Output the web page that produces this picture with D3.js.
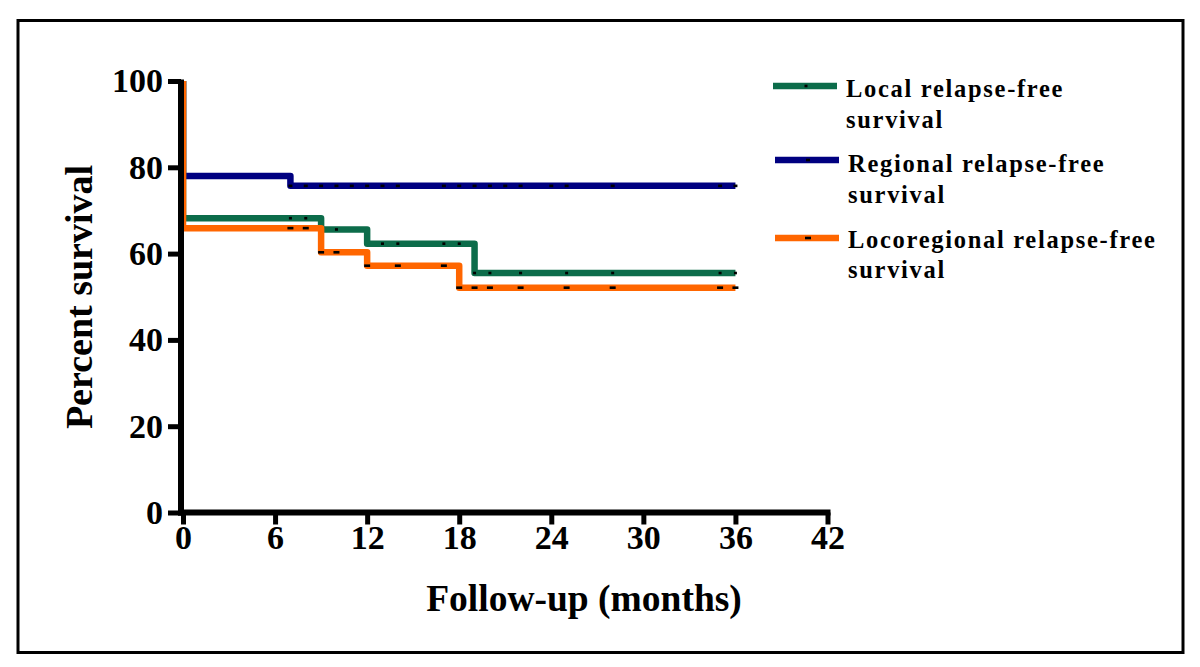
<!DOCTYPE html>
<html>
<head>
<meta charset="utf-8">
<script src="https://cdn.jsdelivr.net/npm/d3@7"></script>
<style>
  html, body { margin: 0; padding: 0; background: #fff; }
  svg { display: block; }
  text { font-family: "Liberation Serif", "Times New Roman", serif; font-weight: bold; fill: #000; }
</style>
</head>
<body>
<svg id="chart" width="1200" height="667"></svg>
<script>
// ---- data ----
const xTicks = [0, 6, 12, 18, 24, 30, 36, 42];
const yTicks = [0, 20, 40, 60, 80, 100];
const endTime = 36;

const seriesNames = ["Local relapse-free survival", "Regional relapse-free survival", "Locoregional relapse-free survival"];

const localTimes = [0, 9, 12, 19];
const localSurv = [68.2, 65.6, 62.3, 55.5];
const localCensor = [7, 8, 10, 13, 14, 17, 18, 19, 20, 22, 25, 28, 35, 36];

const regionalTimes = [0, 7];
const regionalSurv = [78, 75.7];
const regionalCensor = [7, 8, 9, 10, 11, 12, 13, 14, 17, 18, 19, 20, 21, 22, 24, 25, 28, 35, 36];

const locoTimes = [0, 9, 12, 18];
const locoSurv = [65.9, 60.3, 57.2, 52.1];
const locoCensor = [7, 8, 9, 10, 12, 14, 17, 18, 19, 20, 22, 25, 28, 35, 36];

const colors = ["#0c6c4a", "#000080", "#ff6600"];

// ---- build ----
const series = [
  { name: seriesNames[1], times: regionalTimes, surv: regionalSurv, censor: regionalCensor, color: colors[1], mw: 4 },
  { name: seriesNames[0], times: localTimes, surv: localSurv, censor: localCensor, color: colors[0], mw: 3 },
  { name: seriesNames[2], times: locoTimes, surv: locoSurv, censor: locoCensor, color: colors[2], mw: 6 }
];

const svg = d3.select("#chart");

svg.append("rect").attr("x", 18).attr("y", 20.5).attr("width", 1165).attr("height", 632)
  .attr("fill", "none").attr("stroke", "#000").attr("stroke-width", 3);

const x = d3.scaleLinear().domain([0, 42]).range([183, 827.5]);
const y = d3.scaleLinear().domain([0, 100]).range([512.5, 81]);

function stepPoints(s) {
  const pts = [[0, 100]];
  s.times.forEach((t, i) => pts.push([t, s.surv[i]]));
  pts.push([endTime, s.surv[s.surv.length - 1]]);
  return pts;
}
function survAt(s, t) {
  let v = 100;
  s.times.forEach((tt, i) => { if (tt <= t) v = s.surv[i]; });
  return v;
}

const line = d3.line().x(d => x(d[0])).y(d => y(d[1])).curve(d3.curveStepAfter);

const gLines = svg.append("g");
series.forEach(s => {
  gLines.append("path").datum(stepPoints(s)).attr("d", line)
    .attr("fill", "none").attr("stroke", s.color).attr("stroke-width", 6.5)
    .attr("stroke-linejoin", "round");
});
series.forEach(s => {
  gLines.selectAll(null).data(s.censor).enter().append("rect")
    .attr("x", d => x(d) - s.mw / 2).attr("y", d => y(survAt(s, d)) - 1.3)
    .attr("width", s.mw).attr("height", 2.6).attr("fill", "#000");
});

// ---- axes ----
const yAxis = svg.append("g").attr("transform", "translate(181,0)")
  .call(d3.axisLeft(y).tickValues(yTicks).tickSize(13).tickSizeOuter(0).tickPadding(5).tickFormat(d3.format("d")));
const xAxis = svg.append("g").attr("transform", "translate(0,512.5)")
  .call(d3.axisBottom(x).tickValues(xTicks).tickSize(12).tickSizeOuter(0).tickPadding(0).tickFormat(d3.format("d")));

[yAxis, xAxis].forEach(g => {
  g.select(".domain").attr("stroke", "#000").attr("stroke-width", 6);
  g.selectAll(".tick line").attr("stroke", "#000").attr("stroke-width", 5);
  g.selectAll(".tick text").attr("font-size", 34).attr("font-family", "Liberation Serif, Times New Roman, serif")
    .attr("font-weight", "bold").attr("fill", "#000");
});
yAxis.select(".domain").attr("d", "M0," + (y(100) - 1.5) + "V" + (y(0) + 3));
xAxis.select(".domain").attr("d", "M" + 178 + ",0H" + (x(42) + 3));

// ---- titles ----
svg.append("text").attr("x", 584).attr("y", 611).attr("text-anchor", "middle")
  .attr("font-size", 37.5).text("Follow-up (months)");
svg.append("text").attr("transform", "translate(92,297) rotate(-90)").attr("text-anchor", "middle")
  .attr("font-size", 38).text("Percent survival");

// ---- legend ----
const legendData = [
  { color: colors[0], mw: 3, text: ["Local relapse-free", "survival"], ly: 86, ty: 97, x0: 773 },
  { color: colors[1], mw: 4, text: ["Regional relapse-free", "survival"], ly: 160, ty: 172, x0: 775 },
  { color: colors[2], mw: 6, text: ["Locoregional relapse-free", "survival"], ly: 238, ty: 247.5, x0: 775 }
];
const gLeg = svg.append("g");
legendData.forEach(d => {
  gLeg.append("line").attr("x1", d.x0).attr("x2", d.x0 + 64).attr("y1", d.ly).attr("y2", d.ly)
    .attr("stroke", d.color).attr("stroke-width", 6.5);
  gLeg.append("rect").attr("x", d.x0 + 33 - d.mw / 2).attr("y", d.ly - 1.3).attr("width", d.mw).attr("height", 2.6).attr("fill", "#000");
  const t = gLeg.append("text").attr("x", d.x0 + 73).attr("y", d.ty).attr("font-size", 24.5).attr("letter-spacing", 1.7);
  d.text.forEach((line, i) => {
    t.append("tspan").attr("x", d.x0 + 73).attr("dy", i === 0 ? 0 : 30.5).text(line);
  });
});
</script>
</body>
</html>
